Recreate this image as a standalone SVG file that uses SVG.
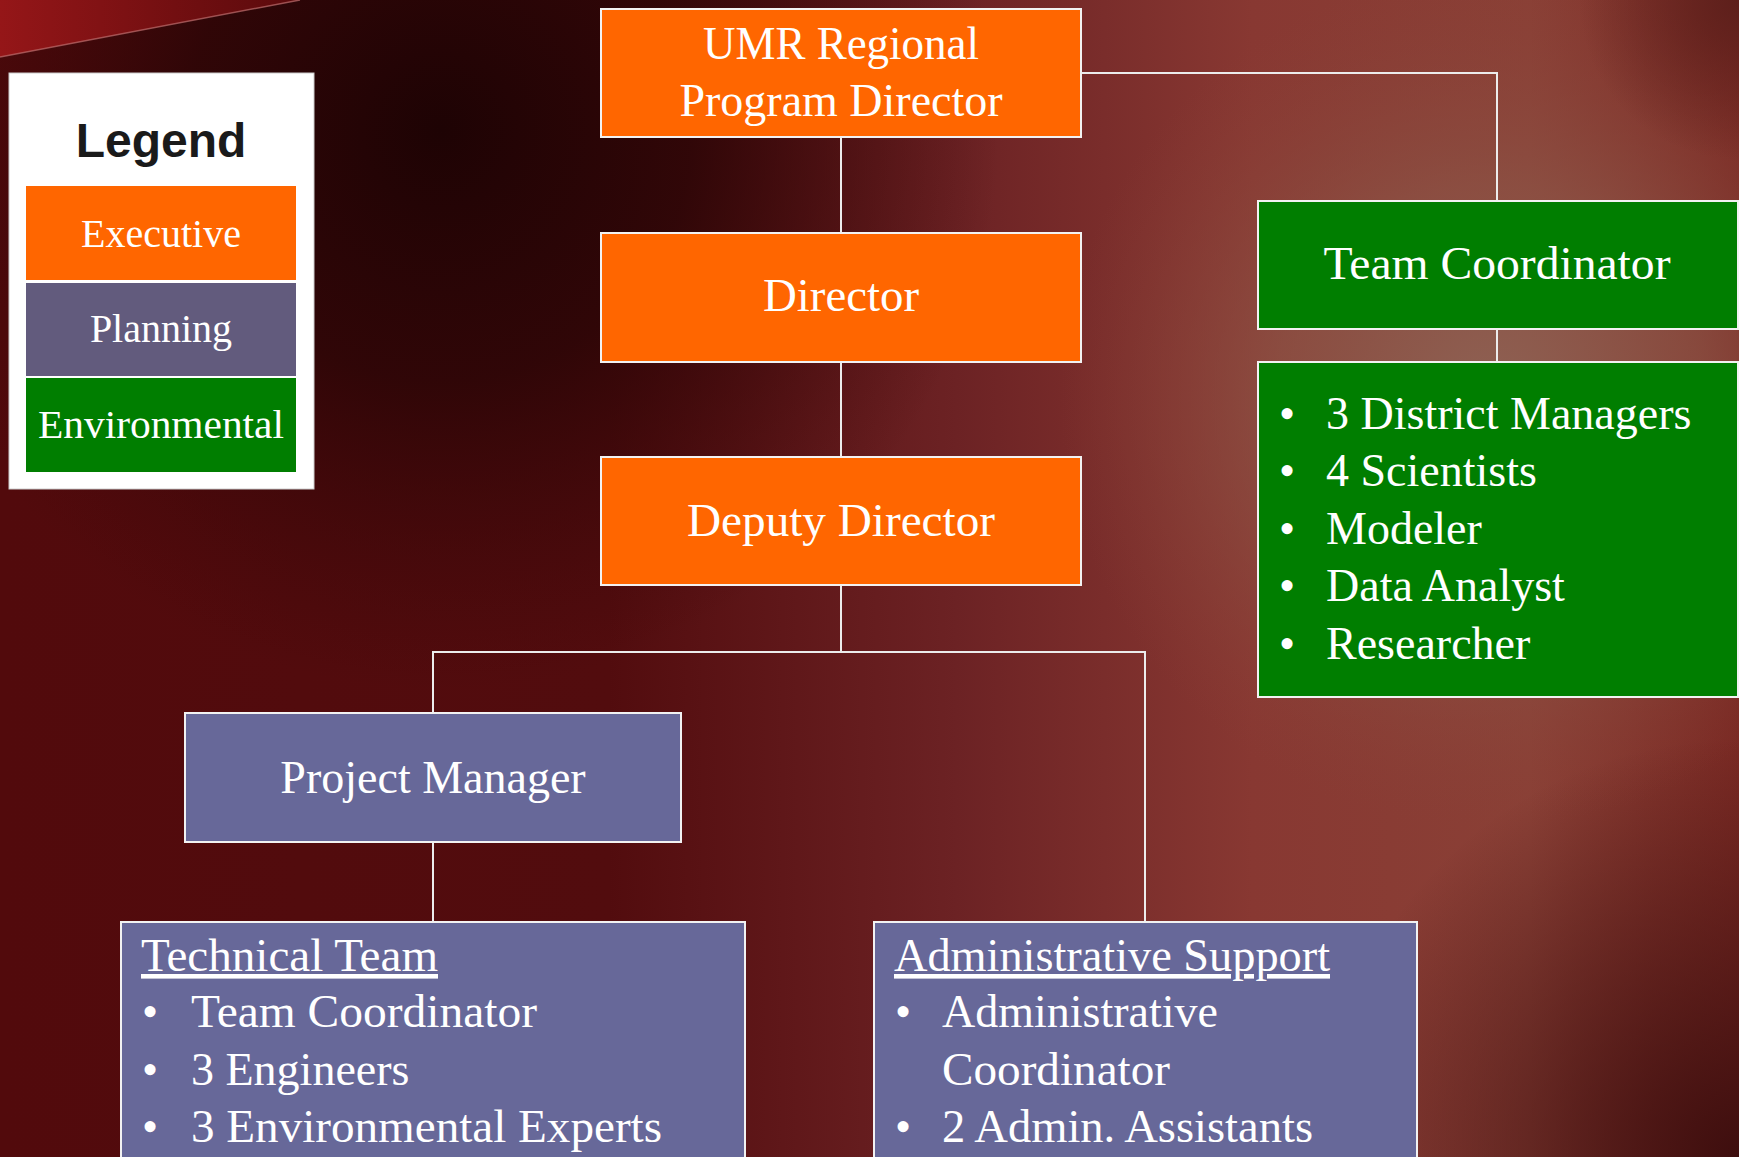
<svg xmlns="http://www.w3.org/2000/svg" width="1739" height="1157" viewBox="0 0 1739 1157">
<defs>
<linearGradient id="bgH" x1="0" y1="0" x2="1739" y2="0" gradientUnits="userSpaceOnUse">
<stop offset="0" stop-color="#520a0c"/>
<stop offset="0.35" stop-color="#520c0e"/>
<stop offset="0.55" stop-color="#6c2224"/>
<stop offset="0.72" stop-color="#883832"/>
<stop offset="0.88" stop-color="#8a4036"/>
<stop offset="1" stop-color="#7a2a24"/>
</linearGradient>
<radialGradient id="light" cx="1490" cy="400" r="430" gradientUnits="userSpaceOnUse">
<stop offset="0" stop-color="#8e6254" stop-opacity="1"/>
<stop offset="0.5" stop-color="#8c5446" stop-opacity="0.7"/>
<stop offset="1" stop-color="#8a4036" stop-opacity="0"/>
</radialGradient>
<radialGradient id="dark" cx="440" cy="130" r="560" gradientUnits="userSpaceOnUse">
<stop offset="0" stop-color="#1e0304" stop-opacity="1"/>
<stop offset="0.45" stop-color="#2a0506" stop-opacity="0.85"/>
<stop offset="1" stop-color="#3a0608" stop-opacity="0"/>
</radialGradient>
<radialGradient id="darkBR" cx="1739" cy="1157" r="420" gradientUnits="userSpaceOnUse">
<stop offset="0" stop-color="#3e0e0e" stop-opacity="1"/>
<stop offset="1" stop-color="#3e0e0e" stop-opacity="0"/>
</radialGradient>
<radialGradient id="darkTR" cx="1739" cy="0" r="160" gradientUnits="userSpaceOnUse">
<stop offset="0" stop-color="#5a1e1a" stop-opacity="0.9"/>
<stop offset="1" stop-color="#5a1e1a" stop-opacity="0"/>
</radialGradient>
<linearGradient id="corner" x1="0" y1="0" x2="300" y2="0" gradientUnits="userSpaceOnUse">
<stop offset="0" stop-color="#951618"/>
<stop offset="1" stop-color="#5a0a0c"/>
</linearGradient>
<style>
.box{stroke:#f2f2f2;stroke-width:2}
.exec{fill:#ff6600}
.plan{fill:#676899}
.env{fill:#007e00}
.t{font-family:"Liberation Serif","Times New Roman",serif;font-size:46px;fill:#ffffff}
.c{text-anchor:middle}
.lg{font-family:"Liberation Serif","Times New Roman",serif;font-size:40px;fill:#ffffff;text-anchor:middle}
.conn{stroke:#ececec;stroke-width:2;fill:none}
</style>
</defs>

<!-- background -->
<rect x="0" y="0" width="1739" height="1157" fill="url(#bgH)"/>
<rect x="0" y="0" width="1739" height="1157" fill="url(#light)"/>
<rect x="0" y="0" width="1739" height="1157" fill="url(#dark)"/>
<rect x="0" y="0" width="1739" height="1157" fill="url(#darkBR)"/>
<rect x="0" y="0" width="1739" height="1157" fill="url(#darkTR)"/>
<polygon points="0,0 300,0 0,57" fill="url(#corner)"/>
<line x1="0" y1="57" x2="300" y2="0" stroke="#c07070" stroke-width="1.5" opacity="0.7"/>

<!-- legend -->
<g id="legend">
<rect x="9" y="73" width="305" height="416" fill="#ffffff" stroke="#cccccc" stroke-width="1"/>
<text x="161" y="157" font-family="'Liberation Sans',Arial,sans-serif" font-size="48" font-weight="bold" fill="#1a1a1a" text-anchor="middle">Legend</text>
<rect x="26" y="186" width="270" height="94" class="exec"/>
<text x="161" y="247" class="lg">Executive</text>
<rect x="26" y="283" width="270" height="93" fill="#625b7d"/>
<text x="161" y="342" class="lg">Planning</text>
<rect x="26" y="378" width="270" height="94" class="env"/>
<text x="161" y="438" class="lg" textLength="246" lengthAdjust="spacingAndGlyphs">Environmental</text>
</g>

<!-- connectors -->
<g id="connectors">
<line class="conn" x1="841" y1="137" x2="841" y2="233"/>
<line class="conn" x1="841" y1="362" x2="841" y2="457"/>
<polyline class="conn" points="1081,73 1497,73 1497,201"/>
<line class="conn" x1="1497" y1="329" x2="1497" y2="362"/>
<line class="conn" x1="841" y1="586" x2="841" y2="652"/>
<polyline class="conn" points="433,713 433,652 1145,652 1145,922"/>
<line class="conn" x1="433" y1="842" x2="433" y2="922"/>
</g>

<!-- nodes -->
<g id="umr">
<rect x="601" y="9" width="480" height="128" class="box exec"/>
<text x="841" y="59" class="t c" textLength="276" lengthAdjust="spacingAndGlyphs">UMR Regional</text>
<text x="841" y="116" class="t c">Program Director</text>
</g>
<g id="director">
<rect x="601" y="233" width="480" height="129" class="box exec"/>
<text x="841" y="311" class="t c" textLength="156" lengthAdjust="spacingAndGlyphs">Director</text>
</g>
<g id="deputy">
<rect x="601" y="457" width="480" height="128" class="box exec"/>
<text x="841" y="536" class="t c" textLength="308" lengthAdjust="spacingAndGlyphs">Deputy Director</text>
</g>
<g id="team-coordinator">
<rect x="1258" y="201" width="480" height="128" class="box env"/>
<text x="1497" y="279" class="t c" textLength="347" lengthAdjust="spacingAndGlyphs">Team Coordinator</text>
</g>
<g id="env-team">
<rect x="1258" y="362" width="480" height="335" class="box env"/>
<g class="t">
<text x="1287" y="429" text-anchor="middle">•</text><text x="1326" y="429">3 District Managers</text>
<text x="1287" y="486" text-anchor="middle">•</text><text x="1326" y="486">4 Scientists</text>
<text x="1287" y="544" text-anchor="middle">•</text><text x="1326" y="544">Modeler</text>
<text x="1287" y="601" text-anchor="middle">•</text><text x="1326" y="601">Data Analyst</text>
<text x="1287" y="659" text-anchor="middle">•</text><text x="1326" y="659">Researcher</text>
</g>
</g>
<g id="project-manager">
<rect x="185" y="713" width="496" height="129" class="box plan"/>
<text x="433" y="793" class="t c">Project Manager</text>
</g>
<g id="technical-team">
<rect x="121" y="922" width="624" height="250" class="box plan"/>
<g class="t">
<text x="141" y="971" text-decoration="underline" textLength="297" lengthAdjust="spacingAndGlyphs">Technical Team</text>
<text x="150" y="1027" text-anchor="middle">•</text><text x="191" y="1027" textLength="346" lengthAdjust="spacingAndGlyphs">Team Coordinator</text>
<text x="150" y="1085" text-anchor="middle">•</text><text x="191" y="1085">3 Engineers</text>
<text x="150" y="1142" text-anchor="middle">•</text><text x="191" y="1142" textLength="471" lengthAdjust="spacingAndGlyphs">3 Environmental Experts</text>
</g>
</g>
<g id="admin-support">
<rect x="874" y="922" width="543" height="250" class="box plan"/>
<g class="t">
<text x="894" y="971" text-decoration="underline" textLength="436" lengthAdjust="spacingAndGlyphs">Administrative Support</text>
<text x="903" y="1027" text-anchor="middle">•</text><text x="942" y="1027">Administrative</text>
<text x="942" y="1085" textLength="228" lengthAdjust="spacingAndGlyphs">Coordinator</text>
<text x="903" y="1142" text-anchor="middle">•</text><text x="942" y="1142" textLength="371" lengthAdjust="spacingAndGlyphs">2 Admin. Assistants</text>
</g>
</g>
</svg>
